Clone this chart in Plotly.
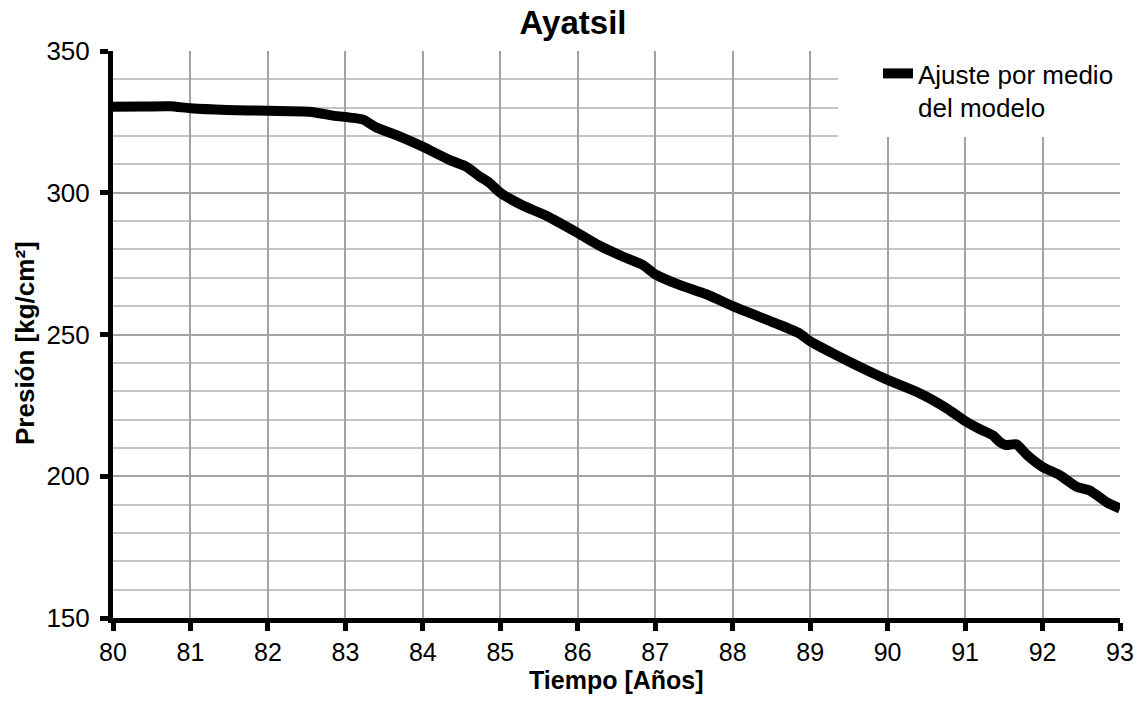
import plotly.graph_objects as go

# Data
years = [80.0, 80.4, 80.74, 81.0, 81.47, 82.0, 82.54, 82.84, 83.1, 83.23, 83.4, 83.66,
         84.0, 84.35, 84.56, 84.73, 84.86, 85.0, 85.29, 85.6, 86.0, 86.27, 86.58, 86.84,
         87.0, 87.32, 87.66, 88.0, 88.55, 88.86, 89.0, 89.33, 89.67, 90.0, 90.42, 90.76,
         91.0, 91.2, 91.36, 91.45, 91.53, 91.66, 91.8, 92.0, 92.22, 92.44, 92.61, 92.83, 93.0]
pressure = [330.3, 330.4, 330.5, 329.8, 329.2, 328.9, 328.6, 327.2, 326.4, 325.8, 323.0, 320.3,
            316.2, 311.5, 309.2, 305.8, 303.5, 300.0, 295.5, 291.8, 285.8, 281.5, 277.5, 274.5,
            271.2, 267.4, 264.2, 260.0, 254.0, 250.4, 247.6, 242.8, 238.2, 234.0, 229.2, 224.0,
            219.5, 216.5, 214.4, 212.0, 211.0, 211.3, 207.5, 203.3, 200.4, 196.3, 195.0, 190.8, 188.6]

x_ticks = list(range(80, 94))
y_ticks = [150, 200, 250, 300, 350]

series_name = "Ajuste por medio<br>del modelo"
title_text = "Ayatsil"
x_title = "Tiempo [Años]"
y_title = "Presión [kg/cm²]"

FONT = "Liberation Sans, Arial, sans-serif"

fig = go.Figure()
fig.add_trace(go.Scatter(
    x=years, y=pressure, mode="lines", name=series_name,
    line=dict(color="black", width=10, shape="spline", smoothing=0.6),
    showlegend=True,
))

W, H = 1146, 713
L, R, T, B = 113, 26, 51, 95
pw = W - L - R
ph = H - T - B

def px_x(p):
    return (p - L) / pw

def px_y(p):
    return (H - B - p) / ph

fig.update_layout(
    width=W, height=H,
    margin=dict(l=L, r=R, t=T, b=B),
    paper_bgcolor="white", plot_bgcolor="white",
    font=dict(family=FONT, color="black", size=25),
    title=dict(text="<b>" + title_text + "</b>", x=0.5, xref="container", xanchor="center",
               y=1 - 22 / H, yref="container", yanchor="middle",
               font=dict(size=33, family=FONT, color="black")),
    showlegend=True,
    legend=dict(x=px_x(878), y=px_y(50), xanchor="left", yanchor="top",
                bgcolor="rgba(0,0,0,0)", font=dict(size=26, family=FONT, color="black"),
                valign="top", tracegroupgap=0),
    xaxis=dict(range=[80, 93], tickvals=x_ticks, ticktext=[str(v) for v in x_ticks],
               showgrid=True, gridcolor="#a3a3a3", gridwidth=2,
               showline=True, linecolor="black", linewidth=5,
               ticks="outside", ticklen=8, tickwidth=5, tickcolor="black",
               ticklabelstandoff=0,
               tickfont=dict(size=25, family=FONT, color="black"),
               zeroline=False),
    yaxis=dict(range=[150, 350], tickvals=y_ticks, ticktext=[str(v) for v in y_ticks],
               showgrid=True, gridcolor="#a3a3a3", gridwidth=2,
               minor=dict(dtick=10, showgrid=True, gridcolor="#c4c4c4", gridwidth=2, ticks=""),
               showline=True, linecolor="black", linewidth=5,
               ticks="outside", ticklen=8, tickwidth=5, tickcolor="black",
               ticklabelstandoff=5,
               tickfont=dict(size=26, family=FONT, color="black"),
               zeroline=False),
    shapes=[dict(type="rect", xref="paper", yref="paper",
                 x0=px_x(838), x1=px_x(1124), y0=px_y(137), y1=px_y(47),
                 fillcolor="white", line=dict(width=0), layer="above")],
    annotations=[
        dict(text="<b>" + x_title + "</b>", xref="paper", yref="paper",
             x=px_x(616), y=px_y(680), xanchor="center", yanchor="middle",
             showarrow=False, font=dict(size=25, family=FONT, color="black")),
        dict(text="<b>" + y_title + "</b>", xref="paper", yref="paper",
             x=px_x(25), y=px_y(343), xanchor="center", yanchor="middle",
             textangle=-90, showarrow=False, font=dict(size=26, family=FONT, color="black")),
    ],
)

fig.write_html("out.html", config={"displayModeBar": False},
               post_script="document.body.style.margin='0';document.body.style.overflow='hidden';")
